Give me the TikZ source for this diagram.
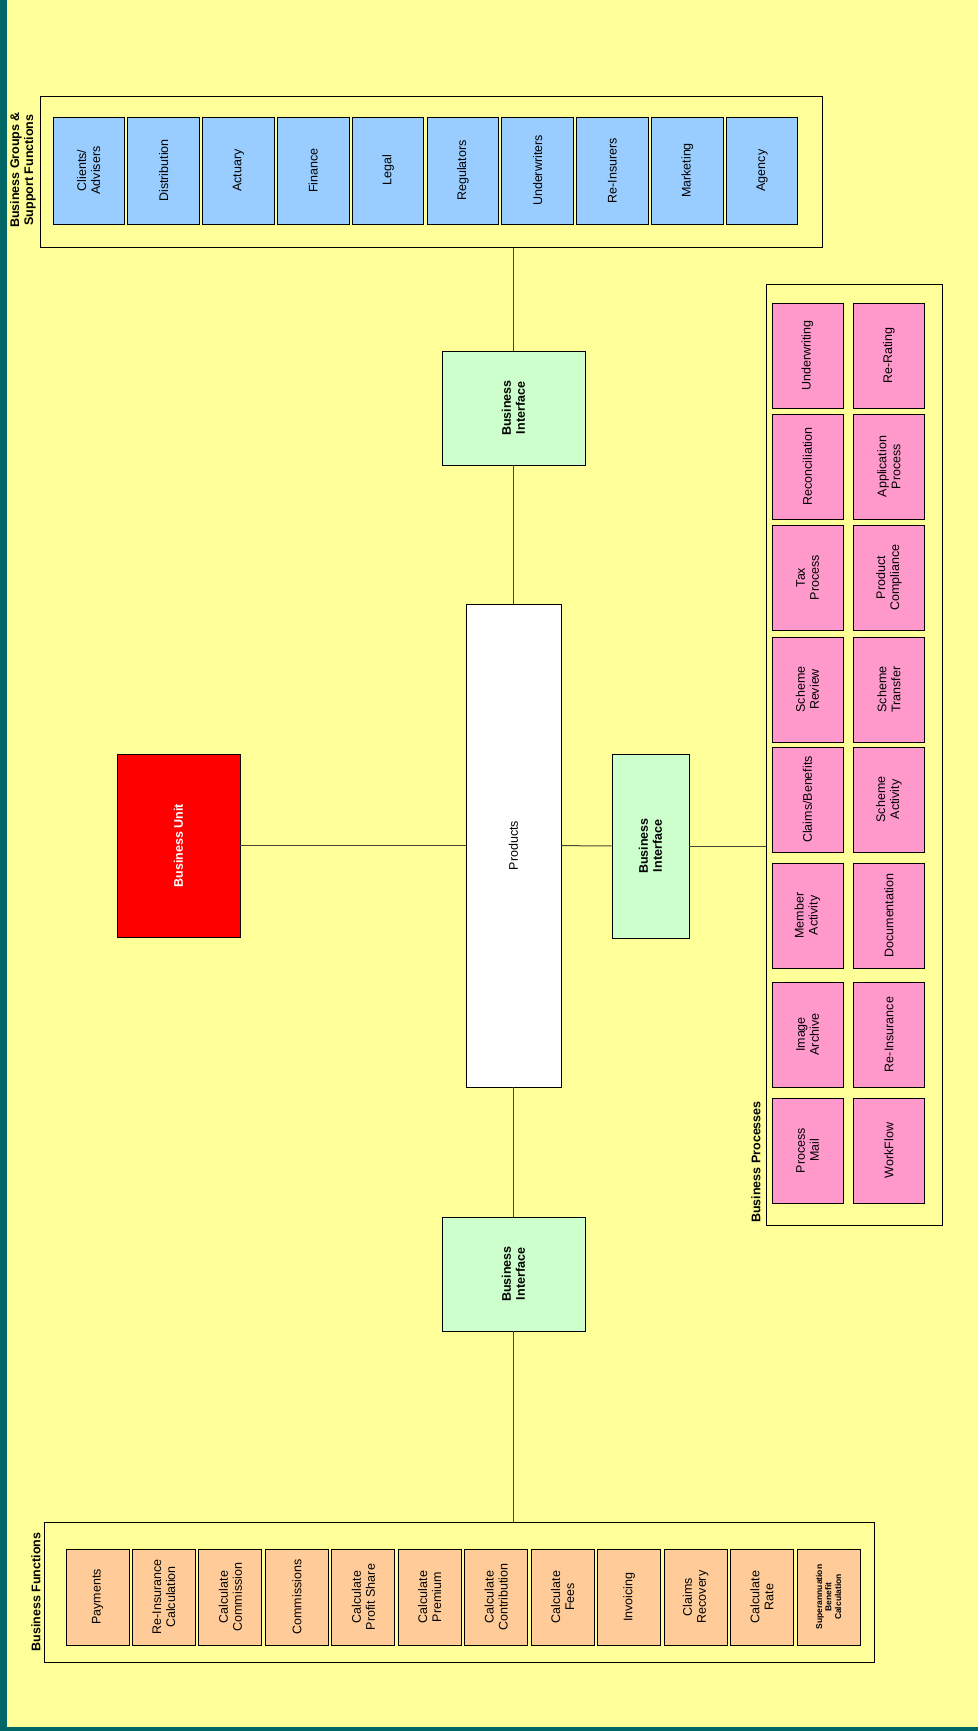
\documentclass[tikz,border=0pt]{standalone}
\usepackage{fontspec}
\setmainfont{Liberation Sans}
\definecolor{bgyellow}{RGB}{255,255,153}
\definecolor{edgeteal}{RGB}{0,102,102}
\definecolor{cblue}{RGB}{153,204,255}
\definecolor{cpink}{RGB}{255,153,204}
\definecolor{corange}{RGB}{255,204,153}
\definecolor{cgreen}{RGB}{204,255,204}
\definecolor{cred}{RGB}{255,0,0}
\definecolor{linecol}{RGB}{70,70,55}
\tikzset{
  box/.style={draw=black, line width=0.9pt, inner sep=0pt, align=center, rotate=90,
    font=\fontsize{12.5}{14}\selectfont},
  bluebox/.style={box, fill=cblue, minimum width=107, minimum height=71.5},
  pinkbox/.style={box, fill=cpink, minimum width=105, minimum height=71},
  orangebox/.style={box, fill=corange, minimum width=96, minimum height=63},
  ifacebox/.style={box, fill=cgreen, font=\bfseries\fontsize{12.5}{14}\selectfont},
  groupbox/.style={draw=black, line width=1pt, inner sep=0pt},
  grouplabel/.style={rotate=90, inner sep=0pt, align=center,
    font=\bfseries\fontsize{12.5}{14}\selectfont},
  conn/.style={draw=linecol, line width=1pt}
}
\begin{document}
\begin{tikzpicture}[x=1pt,y=-1pt]
\useasboundingbox (0,0) rectangle (978,1731);
\fill[edgeteal] (0,0) rectangle (978,1731);
\fill[bgyellow] (7,0) rectangle (978,1727);

% group boxes
\node[groupbox, minimum width=782, minimum height=150] (tg) at (431,172) {};
\node[groupbox, minimum width=176, minimum height=941] (bp) at (854,754.5) {};
\node[groupbox, minimum width=830, minimum height=140] (bf) at (459,1592) {};

\node[grouplabel] (tgl) at (23,170) {Business Groups \&\\Support Functions};
\node[grouplabel] (bpl) at (756,1162) {Business Processes};
\node[grouplabel] (bfl) at (36,1592) {Business Functions};

% business groups
\foreach \t [count=\i from 0] in {{Clients/\\Advisers},Distribution,Actuary,Finance,Legal,Regulators,Underwriters,Re-Insurers,Marketing,Agency}
  \node[bluebox] (blue\i) at ({53+74.82*\i+35.75},170.5) {\t};

% business processes
\foreach \t/\tp [count=\i] in {Underwriting/303,Reconciliation/414,{Tax\\Process}/525,{Scheme\\Review}/637,{Claims\slash Benefits}/747,{Member\\Activity}/863,{Image\\Archive}/982,{Process\\Mail}/1098}
  \node[pinkbox] (pa\i) at (807.5,{\tp+52.5}) {\t};
\foreach \t/\tp [count=\i] in {Re-Rating/303,{Application\\Process}/414,{Product\\Compliance}/525,{Scheme\\Transfer}/637,{Scheme\\Activity}/747,Documentation/863,Re-Insurance/982,WorkFlow/1098}
  \node[pinkbox] (pb\i) at (889,{\tp+52.5}) {\t};

% business functions
\foreach \t [count=\i from 0] in {Payments,{Re-Insurance\\Calculation},{Calculate\\Commission},Commissions,{Calculate\\Profit Share},{Calculate\\Premium},{Calculate\\Contribution},{Calculate\\Fees},Invoicing,{Claims\\Recovery},{Calculate\\Rate}}
  \node[orangebox] (f\i) at ({66+66.45*\i+31.5},1597) {\t};
\node[orangebox, font=\bfseries\fontsize{8.5}{9.5}\selectfont] (f11) at ({66+66.45*11+31.5},1597) {Superannuation\\Benefit\\Calculation};

% central nodes
\node[box, fill=cred, text=white, font=\bfseries\fontsize{12.5}{14}\selectfont,
  minimum width=183, minimum height=123] (bu) at (178.5,845.5) {Business Unit};
\node[box, fill=white, minimum width=483, minimum height=95] (prod) at (513.5,845.5) {Products};
\node[ifacebox, minimum width=114, minimum height=143] (bi1) at (513.5,408) {Business\\Interface};
\node[ifacebox, minimum width=184, minimum height=77] (bi2) at (650.5,846) {Business\\Interface};
\node[ifacebox, minimum width=114, minimum height=143] (bi3) at (513.5,1274) {Business\\Interface};

% connectors
\draw[conn] (bi1) -- (bi1 |- tg.south);
\draw[conn] (bi1) -- (prod);
\draw[conn] (prod) -- (bi3);
\draw[conn] (bi3) -- (bi3 |- bf.north);
\draw[conn] (bu) -- (prod);
\draw[conn] (prod) -- (bi2);
\draw[conn] (bi2) -- (bi2 -| bp.west);
\end{tikzpicture}
\end{document}
